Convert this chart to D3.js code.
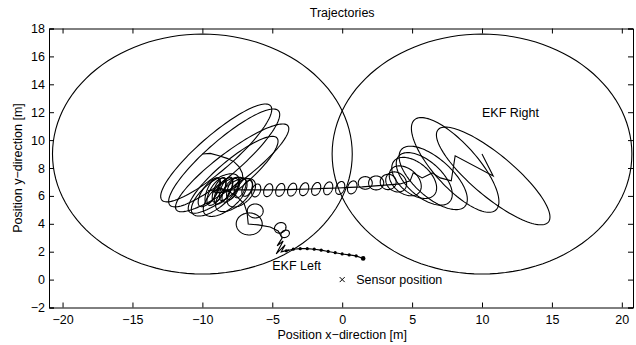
<!DOCTYPE html>
<html>
<head>
<meta charset="utf-8">
<script src="https://cdnjs.cloudflare.com/ajax/libs/d3/7.8.5/d3.min.js"></script>
<style>
body { margin: 0; background: #fff; }
text { font-family: "Liberation Sans", Arial, sans-serif; font-size: 12.5px; fill: #000; }
</style>
</head>
<body>
<div id="chart"></div>
<script>
// axis ticks
var xTicks = [-20, -15, -10, -5, 0, 5, 10, 15, 20];
var yTicks = [-2, 0, 2, 4, 6, 8, 10, 12, 14, 16, 18];

// initial covariance ellipses of both filters: [cx, cy, a, b, angle(deg)]
var initEllipses = [
    [-10, 9, 10.72, 8.6, 0],
    [10, 9, 10.72, 8.6, 0]
];

// true target track (dotted)
var trueTrack = [
    [1.5, 1.52], [1.0, 1.70], [0.5, 1.77], [0.0, 1.84], [-0.5, 1.93], [-1.0, 2.02],
    [-1.5, 2.11], [-2.0, 2.18], [-2.5, 2.22], [-3.0, 2.22], [-3.5, 2.18], [-4.0, 2.06]
];

// EKF Left estimate
var leftTrack = [
    [-10, 9], [-9.44, 9.05], [-8.87, 8.90], [-8.23, 8.69], [-7.73, 8.44], [-7.37, 8.08],
    [-7.15, 7.65], [-7.08, 7.15], [-7.44, 6.72], [-8.01, 6.43], [-8.73, 6.22], [-9.23, 6.29],
    [-8.73, 6.57], [-8.08, 6.29], [-7.58, 6.0], [-7.01, 5.43], [-6.80, 4.78], [-6.72, 3.99],
    [-6.01, 3.92], [-5.15, 3.77], [-4.58, 3.49], [-4.29, 2.99], [-4.65, 2.42], [-4.22, 2.77],
    [-4.72, 1.84], [-4.08, 2.49], [-4.36, 1.99], [-3.79, 2.13]
];

// EKF Right estimate
var rightTrack = [
    [10, 9], [10.80, 7.43], [8.08, 8.87], [7.80, 7.08], [7.01, 7.29], [6.44, 7.65],
    [5.72, 7.29], [5.08, 7.65], [4.86, 7.08], [4.15, 6.86], [3.29, 6.79], [2.36, 6.72],
    [1.43, 6.65], [0.57, 6.61], [-0.29, 6.57], [-1.22, 6.54], [-2.29, 6.50], [-3.36, 6.47],
    [-4.43, 6.43], [-5.51, 6.43], [-6.58, 6.43], [-7.65, 6.43], [-8.73, 6.43], [-9.59, 6.39]
];

// covariance ellipses along the estimates: [cx, cy, a, b, angle(deg)]
var leftEllipses = [
    [-9.01, 9.08, 5.15, 1.25, 41],
    [-8.44, 8.72, 5.15, 1.25, 41],
    [-7.87, 8.01, 5.0, 1.15, 37],
    [-7.80, 7.51, 4.1, 1.05, 40],
    [-9.08, 6.07, 2.1, 0.9, 40],
    [-8.37, 5.93, 1.9, 0.9, 40],
    [-7.73, 6.07, 1.6, 0.8, 40],
    [-7.22, 6.22, 1.25, 0.72, 45],
    [-9.5, 6.25, 1.2, 0.5, 55],
    [-9.0, 6.3, 1.1, 0.45, 60],
    [-8.5, 6.35, 1.05, 0.45, 60],
    [-8.0, 6.4, 0.95, 0.42, 60],
    [-9.30, 6.36, 1.0, 0.36, 67],
    [-8.80, 6.43, 0.95, 0.36, 67],
    [-8.30, 6.50, 0.9, 0.36, 67],
    [-7.80, 6.54, 0.85, 0.36, 67],
    [-7.30, 6.57, 0.75, 0.34, 67],
    [-6.80, 6.54, 0.6, 0.32, 67],
    [-6.65, 3.99, 0.93, 0.79, 0],
    [-6.22, 4.92, 0.57, 0.5, 0],
    [-4.43, 3.71, 0.43, 0.36, 30],
    [-4.08, 3.28, 0.32, 0.25, 30]
];

var chainEllipses = [
    [-6.15, 6.39, 0.48, 0.3, 70],
    [-5.29, 6.41, 0.48, 0.3, 70],
    [-4.43, 6.43, 0.48, 0.3, 70],
    [-3.58, 6.45, 0.48, 0.3, 70],
    [-2.72, 6.48, 0.48, 0.3, 70],
    [-1.86, 6.50, 0.48, 0.3, 70],
    [-1.00, 6.54, 0.48, 0.3, 70],
    [-0.14, 6.57, 0.48, 0.3, 70],
    [0.72, 6.61, 0.48, 0.32, 70]
];

var rightEllipses = [
    [1.65, 6.93, 0.5, 0.45, 0],
    [2.43, 6.93, 0.54, 0.5, 0],
    [3.29, 7.0, 0.57, 0.55, 0],
    [3.86, 7.00, 0.8, 0.66, -40],
    [4.51, 7.08, 1.3, 0.88, -40],
    [5.15, 7.29, 1.88, 1.1, -40],
    [5.87, 7.22, 2.45, 1.25, -42],
    [6.51, 7.29, 3.05, 1.35, -42],
    [8.08, 8.22, 4.35, 1.55, -48],
    [10.80, 7.43, 5.15, 1.5, -40]
];

var labels = [
    {text: "EKF Right", x: 10, y: 12},
    {text: "EKF Left", x: -5, y: 1},
    {text: "Sensor position", x: 1, y: 0}
];
var sensor = [0, 0];

// set up svg
const margin = {top: 28.5, right: 3, bottom: 37.5, left: 49},
    width = 636 - margin.left - margin.right,
    height = 345 - margin.top - margin.bottom;

let svg = d3.select("#chart")
    .append("svg")
    .attr("width", 636)
    .attr("height", 345)
    .style("display", "block");

svg.append("rect").attr("width", 636).attr("height", 345).attr("fill", "#fff");

let g = svg.append("g")
    .attr("transform", "translate(" + margin.left + "," + margin.top + ")");

var x = d3.scaleLinear().domain([-20.97, 20.8]).range([0, width]);
var y = d3.scaleLinear().domain([-2, 18]).range([height, 0]);

var minus = function(v) { return String(v).replace("-", "\u2212"); };

// axes, ticks inward on all sides
g.append("g").attr("transform", "translate(0," + height + ")")
    .call(d3.axisBottom(x).tickValues(xTicks).tickSize(-5).tickPadding(7.5).tickFormat(minus));
g.append("g")
    .call(d3.axisTop(x).tickValues(xTicks).tickSize(-5).tickFormat(""));
g.append("g")
    .call(d3.axisLeft(y).tickValues(yTicks).tickSize(-5).tickPadding(4).tickFormat(minus));
g.append("g").attr("transform", "translate(" + width + ",0)")
    .call(d3.axisRight(y).tickValues(yTicks).tickSize(-5).tickFormat(""));

g.selectAll(".domain").attr("stroke", "#000");
g.selectAll(".tick line").attr("stroke", "#000");
g.selectAll(".tick text").attr("font-size", 12).attr("font-family", "Liberation Sans, Arial, sans-serif").attr("fill", "#000");

// ellipse outline from center, semi axes and rotation
function ellipsePts(e) {
    var pts = [], th = e[4] * Math.PI / 180;
    for (var i = 0; i < 120; i++) {
        var t = i / 120 * 2 * Math.PI;
        var u = e[2] * Math.cos(t), v = e[3] * Math.sin(t);
        pts.push([e[0] + u * Math.cos(th) - v * Math.sin(th), e[1] + u * Math.sin(th) + v * Math.cos(th)]);
    }
    return pts;
}

var ringLine = d3.line().x(function(d) { return x(d[0]); }).y(function(d) { return y(d[1]); })
    .curve(d3.curveLinearClosed);
var trackLine = d3.line().x(function(d) { return x(d[0]); }).y(function(d) { return y(d[1]); });

var allEllipses = initEllipses.concat(leftEllipses, chainEllipses, rightEllipses);

g.selectAll(".ell")
    .data(allEllipses)
    .enter().append("path")
    .attr("class", "ell")
    .attr("d", function(d) { return ringLine(ellipsePts(d)); })
    .attr("fill", "none")
    .attr("stroke", "#000")
    .attr("stroke-width", 1.1);

[leftTrack, rightTrack, trueTrack].forEach(function(tr) {
    g.append("path")
        .attr("d", trackLine(tr))
        .attr("fill", "none")
        .attr("stroke", "#000")
        .attr("stroke-width", 1.1);
});

g.selectAll(".dot")
    .data(trueTrack)
    .enter().append("circle")
    .attr("cx", function(d) { return x(d[0]); })
    .attr("cy", function(d) { return y(d[1]); })
    .attr("r", function(d, i) { return i == 0 ? 2.3 : 1.6; })
    .attr("fill", "#000");

// sensor marker
var sx = x(sensor[0]), sy = y(sensor[1]);
g.append("path")
    .attr("d", "M" + (sx - 2.5) + "," + (sy - 2.5) + "L" + (sx + 2.5) + "," + (sy + 2.5) +
        "M" + (sx - 2.5) + "," + (sy + 2.5) + "L" + (sx + 2.5) + "," + (sy - 2.5))
    .attr("stroke", "#000")
    .attr("stroke-width", 1);

g.selectAll(".lbl")
    .data(labels)
    .enter().append("text")
    .attr("x", function(d) { return x(d.x); })
    .attr("y", function(d) { return y(d.y); })
    .attr("dy", "0.35em")
    .attr("font-size", 13)
    .text(function(d) { return d.text; });

// title and axis labels
svg.append("text")
    .attr("x", margin.left + x(0)).attr("y", 17)
    .attr("text-anchor", "middle")
    .text("Trajectories");
svg.append("text")
    .attr("x", margin.left + x(0)).attr("y", 338.5)
    .attr("text-anchor", "middle")
    .text("Position x\u2212direction [m]");
svg.append("text")
    .attr("transform", "translate(22," + (margin.top + y(8)) + ") rotate(-90)")
    .attr("text-anchor", "middle")
    .text("Position y\u2212direction [m]");
</script>
</body>
</html>
